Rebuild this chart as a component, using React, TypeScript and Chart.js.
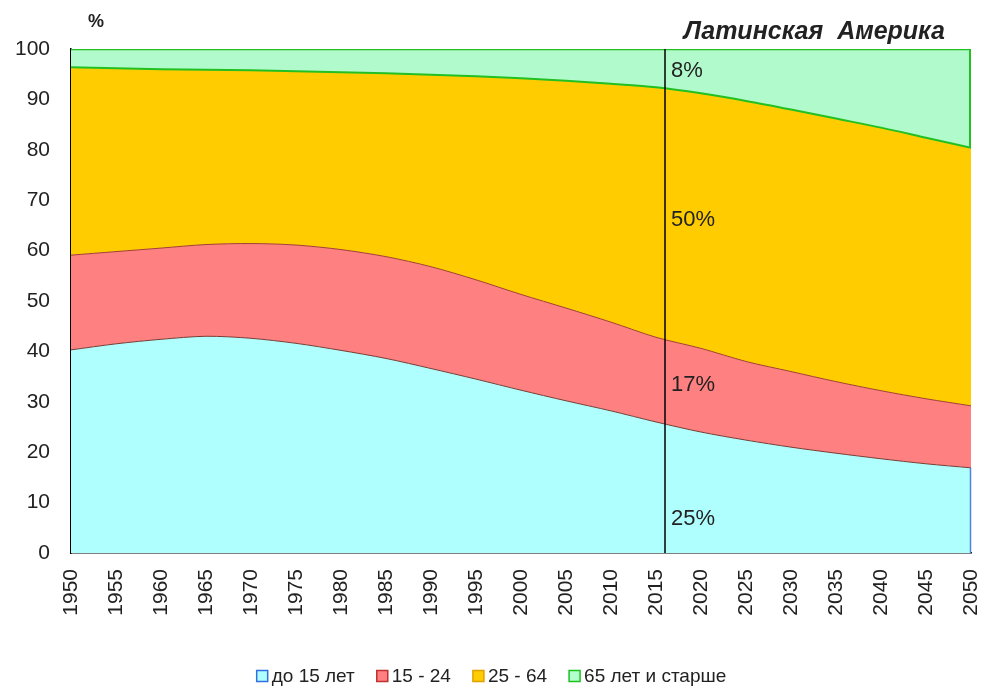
import React, { useEffect, useRef } from "react";
import { Chart, registerables } from "chart.js";

Chart.register(...registerables);

const years = [1950, 1955, 1960, 1965, 1970, 1975, 1980, 1985, 1990, 1995, 2000, 2005, 2010, 2015, 2020, 2025, 2030, 2035, 2040, 2045, 2050];
const under15 = [40.3, 41.5, 42.4, 43.0, 42.6, 41.6, 40.2, 38.6, 36.6, 34.5, 32.3, 30.2, 28.2, 26.0, 24.0, 22.4, 21.0, 19.8, 18.7, 17.7, 16.9];
const age15to24 = [18.8, 18.3, 18.1, 18.2, 18.8, 19.5, 20.0, 20.2, 20.2, 19.7, 19.0, 18.4, 17.6, 16.8, 16.6, 15.6, 15.0, 14.2, 13.5, 12.9, 12.3];
const age25to64 = [37.3, 36.4, 35.5, 34.7, 34.4, 34.5, 35.2, 36.4, 38.1, 40.4, 42.9, 45.1, 47.3, 49.6, 50.6, 51.7, 52.0, 52.2, 52.2, 51.8, 51.2];
const age65plus = [3.6, 3.8, 4.0, 4.1, 4.2, 4.4, 4.6, 4.8, 5.1, 5.4, 5.8, 6.3, 6.9, 7.6, 8.8, 10.3, 12.0, 13.8, 15.6, 17.6, 19.6];

const seriesNames = ["до 15 лет", "15 - 24", "25 - 64", "65 лет и старше"];
const yTicks = [0, 10, 20, 30, 40, 50, 60, 70, 80, 90, 100];
const markerYear = 2016;
const markerLabels = ["25%", "17%", "50%", "8%"];
const markerLabelValues = [6.7, 33.3, 66, 95.6];
const titleText = "Латинская  Америка";
const unitText = "%";

const FONT = "'Liberation Sans', Arial, sans-serif";
const fillColors = ["#B0FFFF", "#FF8080", "#FFCC00", "#B0FACB"];
const legendFill = ["#B0FFFF", "#FF8080", "#FFCC00", "#B0FFCC"];
const legendStroke = ["#3070E0", "#C03030", "#E0A000", "#20C020"];

export default function App() {
  const ref = useRef<HTMLCanvasElement | null>(null);

  useEffect(() => {
    if (!ref.current) return;
    const toPts = (arr: number[]) => years.map((y, i) => ({ x: y, y: arr[i] }));

    const overlay = {
      id: "overlay",
      afterDatasetsDraw(chart: any) {
        const ctx = chart.ctx;
        const xs = chart.scales.x;
        const ys = chart.scales.y;
        const area = chart.chartArea;
        ctx.save();
        // right-hand edges of the areas at the last year
        const last = years.length - 1;
        const xr = xs.getPixelForValue(years[last]);
        const c1 = under15[last];
        const c3 = c1 + age15to24[last] + age25to64[last];
        const c4 = c3 + age65plus[last];
        ctx.lineWidth = 1.5;
        ctx.strokeStyle = "#5080E0";
        ctx.beginPath();
        ctx.moveTo(xr - 0.5, ys.getPixelForValue(0));
        ctx.lineTo(xr - 0.5, ys.getPixelForValue(c1));
        ctx.stroke();
        ctx.lineWidth = 2;
        ctx.strokeStyle = "#22C022";
        ctx.beginPath();
        ctx.moveTo(xr - 1, ys.getPixelForValue(c3));
        ctx.lineTo(xr - 1, ys.getPixelForValue(c4));
        ctx.stroke();

        const x = xs.getPixelForValue(markerYear);
        ctx.strokeStyle = "#000";
        ctx.lineWidth = 1.5;
        ctx.beginPath();
        ctx.moveTo(x, area.top);
        ctx.lineTo(x, area.bottom);
        ctx.stroke();
        ctx.fillStyle = "#222";
        ctx.font = `22px ${FONT}`;
        ctx.textAlign = "left";
        ctx.textBaseline = "middle";
        markerLabels.forEach((t, i) => {
          ctx.fillText(t, x + 6, ys.getPixelForValue(markerLabelValues[i]));
        });
        ctx.restore();
      },
      afterDraw(chart: any) {
        const ctx = chart.ctx;
        const area = chart.chartArea;
        ctx.save();
        ctx.fillStyle = "#222";
        ctx.font = `italic bold 25px ${FONT}`;
        ctx.textAlign = "right";
        ctx.textBaseline = "middle";
        ctx.fillText(titleText, area.right - 26, 32);
        ctx.font = `bold 18px ${FONT}`;
        ctx.textAlign = "center";
        ctx.fillText(unitText, area.left + 25, 22);

        // legend
        ctx.font = `19px ${FONT}`;
        ctx.textBaseline = "middle";
        ctx.textAlign = "left";
        const box = 11;
        const gapBoxText = 4;
        const gapItems = 22;
        const widths = seriesNames.map((n) => box + gapBoxText + ctx.measureText(n).width);
        const total = widths.reduce((a, b) => a + b, 0) + gapItems * (seriesNames.length - 1);
        let lx = (chart.width - total) / 2;
        const ly = 676;
        seriesNames.forEach((n, i) => {
          ctx.fillStyle = legendFill[i];
          ctx.fillRect(lx, ly - box / 2, box, box);
          ctx.strokeStyle = legendStroke[i];
          ctx.lineWidth = 1.5;
          ctx.strokeRect(lx, ly - box / 2, box, box);
          ctx.fillStyle = "#222";
          ctx.fillText(n, lx + box + gapBoxText, ly + 1);
          lx += widths[i] + gapItems;
        });
        ctx.restore();
      },
    };

    const chart = new Chart(ref.current, {
      type: "line",
      data: {
        datasets: [
          {
            label: seriesNames[0],
            data: toPts(under15),
            backgroundColor: fillColors[0],
            borderColor: "#7A3A30",
            borderWidth: 1,
            fill: "origin",
          },
          {
            label: seriesNames[1],
            data: toPts(age15to24),
            backgroundColor: fillColors[1],
            borderColor: "#A04030",
            borderWidth: 1,
            fill: "-1",
          },
          {
            label: seriesNames[2],
            data: toPts(age25to64),
            backgroundColor: fillColors[2],
            borderColor: "#22C022",
            borderWidth: 2,
            fill: "-1",
          },
          {
            label: seriesNames[3],
            data: toPts(age65plus),
            backgroundColor: fillColors[3],
            borderColor: "#22C022",
            borderWidth: 2.5,
            fill: "-1",
          },
        ],
      },
      options: {
        animation: false,
        responsive: false,
        maintainAspectRatio: false,
        layout: { padding: { top: 49, right: 12, left: 0, bottom: 0 } },
        elements: {
          point: { radius: 0, hoverRadius: 0 },
          line: { tension: 0.3 },
        },
        scales: {
          x: {
            type: "linear",
            min: 1950,
            max: 2050,
            afterBuildTicks: (s: any) => {
              s.ticks = years.map((v) => ({ value: v }));
            },
            ticks: {
              autoSkip: false,
              minRotation: 90,
              maxRotation: 90,
              color: "#222",
              font: { size: 21, family: FONT },
              padding: 8,
              callback: (v: any) => String(v),
            },
            grid: { display: false },
            border: { display: true, color: "#000", width: 1.5 },
            afterFit: (s: any) => {
              s.height = 133;
              s.paddingRight = 0;
              s.paddingLeft = 0;
            },
          },
          y: {
            stacked: true,
            min: 0,
            max: 100,
            afterBuildTicks: (s: any) => {
              s.ticks = yTicks.map((v) => ({ value: v }));
            },
            ticks: {
              color: "#222",
              font: { size: 21, family: FONT },
              padding: 13,
            },
            grid: { display: false },
            border: { display: true, color: "#000", width: 1.5 },
            afterFit: (s: any) => {
              s.width = 71;
            },
          },
        },
        plugins: {
          legend: { display: false },
          tooltip: { enabled: false },
        },
      },
      plugins: [overlay],
    } as any);

    return () => chart.destroy();
  }, []);

  return (
    <div style={{ position: "absolute", left: 0, top: 0, width: 983, height: 686, background: "#fff" }}>
      <canvas ref={ref} width={983} height={686} />
    </div>
  );
}
